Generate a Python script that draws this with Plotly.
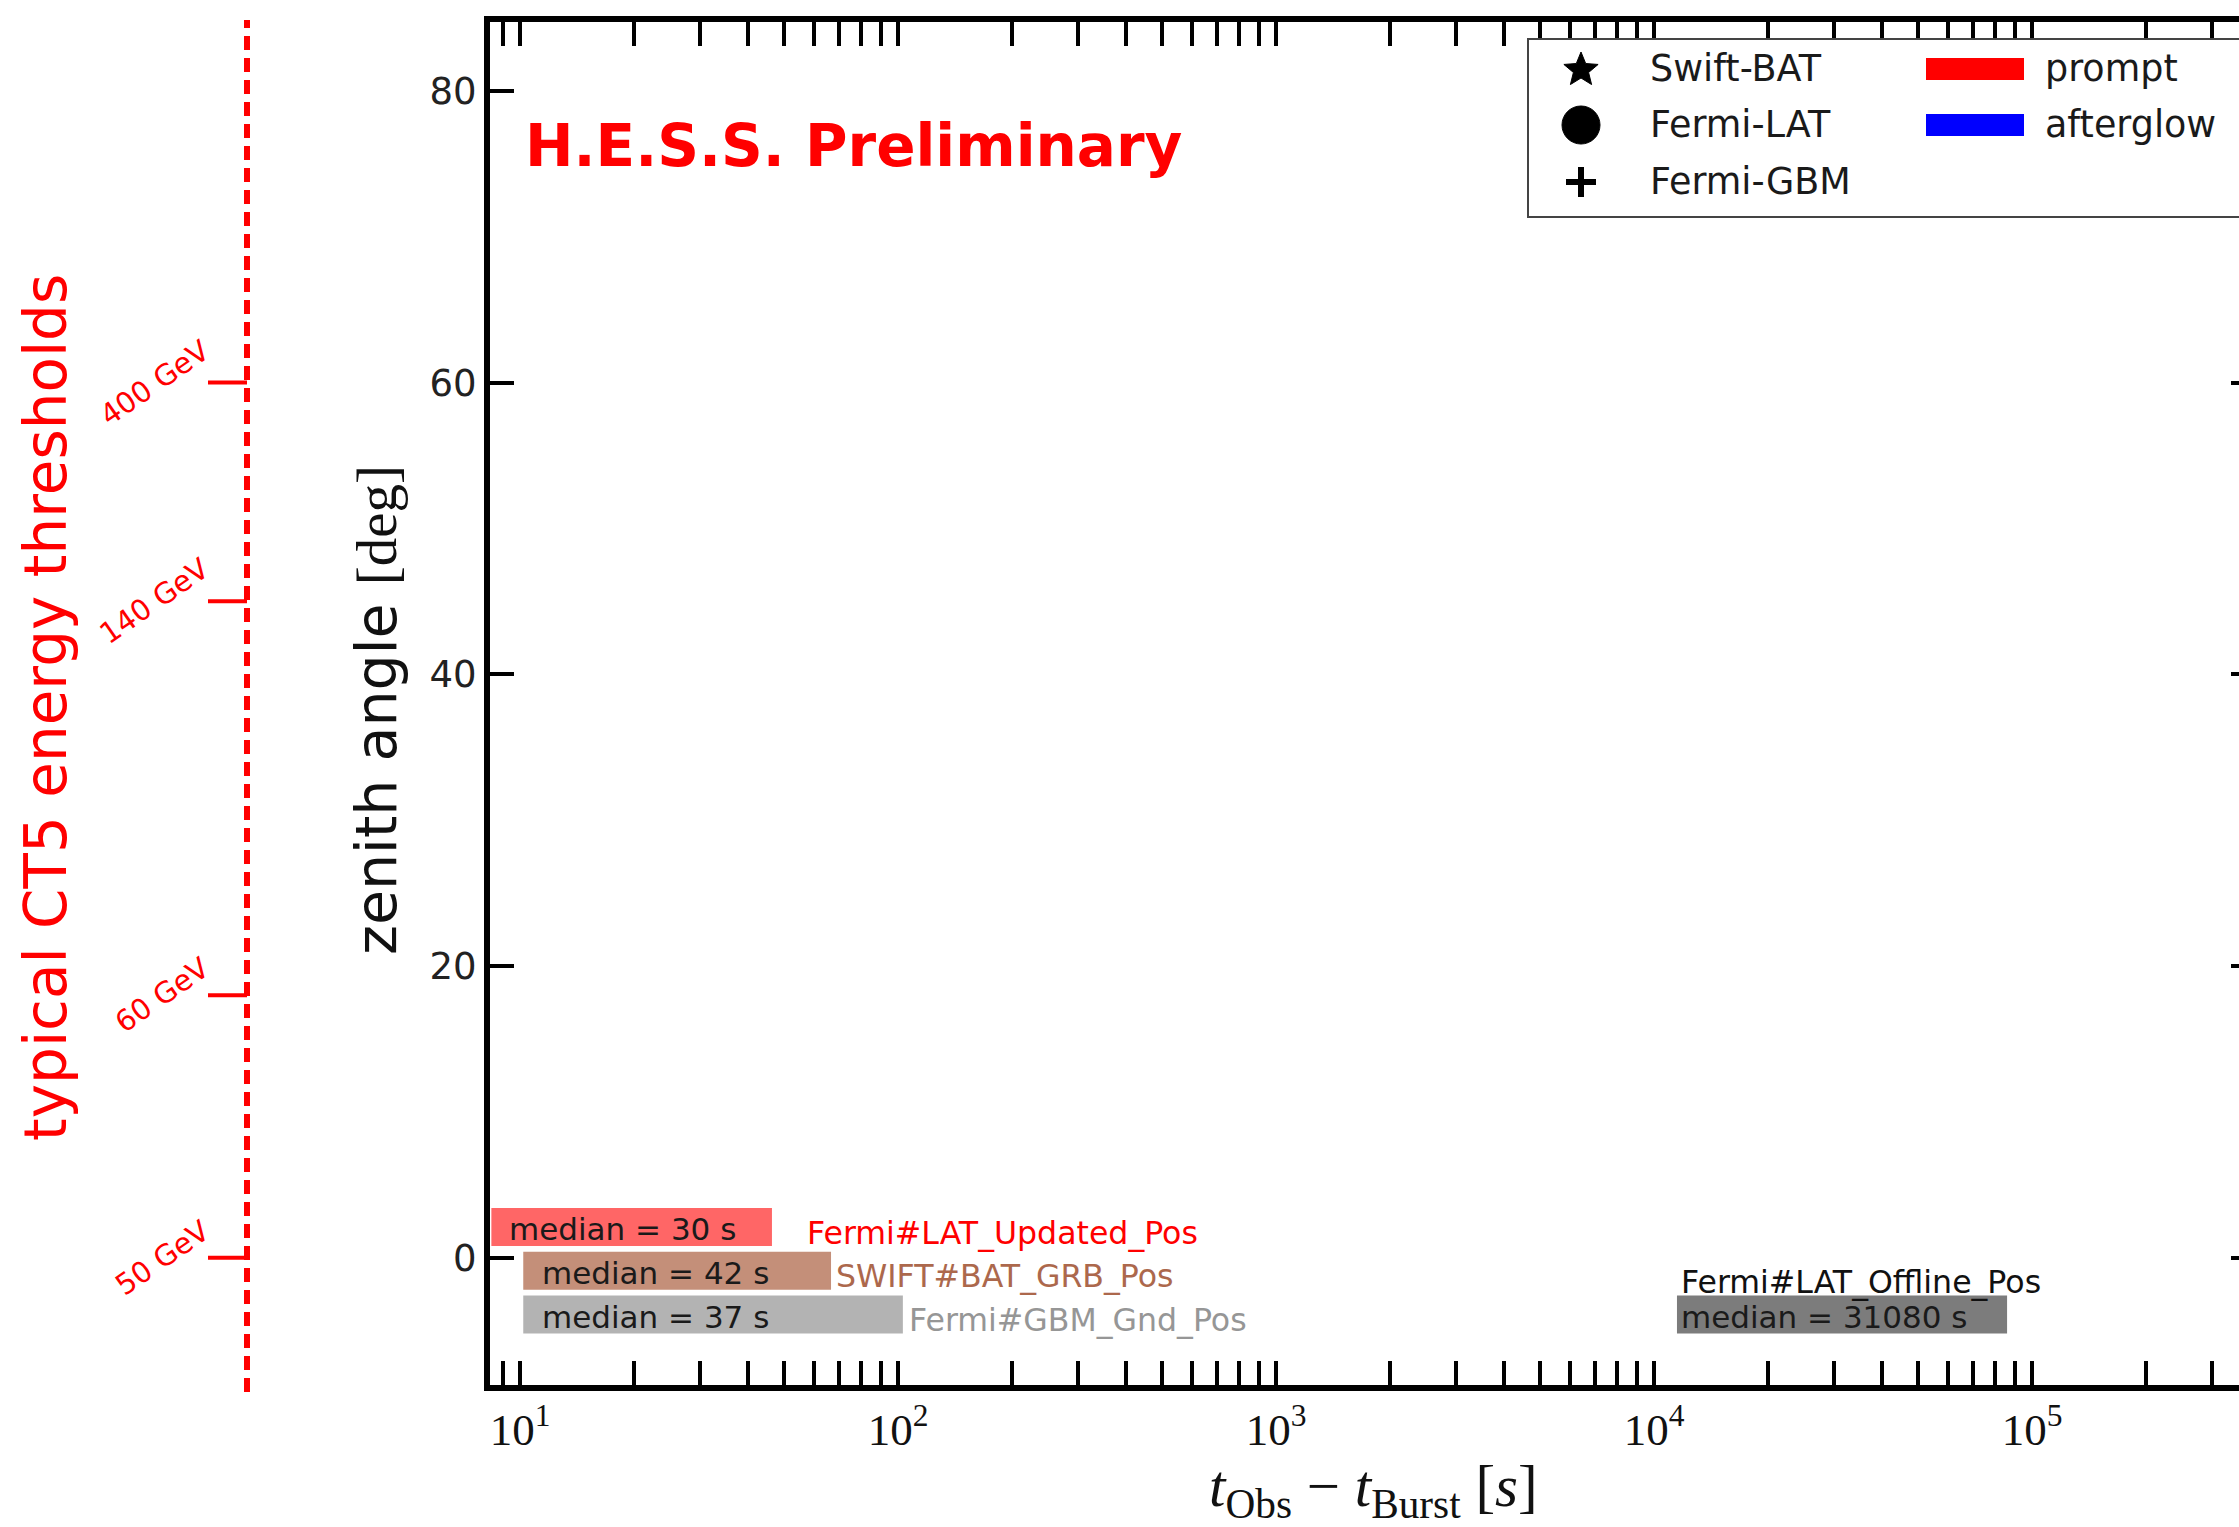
import numpy as np
import plotly.graph_objects as go

# ---------------- data ----------------
sources = ["Fermi#LAT_Updated_Pos", "SWIFT#BAT_GRB_Pos", "Fermi#GBM_Gnd_Pos", "Fermi#LAT_Offline_Pos"]
t_start = [8.4, 10.2, 10.2, 11500.0]        # s
t_end = [46.4, 66.5, 103.0, 85900.0]        # s
medians = [30, 42, 37, 31080]               # s
bar_y = [2.1, -0.9, -3.9, -3.9]             # deg (row position)
bar_height = 2.6

thr_zenith = [0, 18, 45, 60]                # deg
thr_labels = ["50 GeV", "60 GeV", "140 GeV", "400 GeV"]

y_ticks = [0, 20, 40, 60, 80]
x_ticks = [10, 100, 1000, 10000, 100000]
x_ticklabels = ["10<sup>1</sup>", "10<sup>2</sup>", "10<sup>3</sup>", "10<sup>4</sup>", "10<sup>5</sup>"]
x_range_s = [8.33, 352800.0]
y_range = [-8.73, 84.72]

legend_markers = ["Swift-BAT", "Fermi-LAT", "Fermi-GBM"]
legend_patches = ["prompt", "afterglow"]
patch_colors = ["#ff0000", "#0000ff"]

# ---------------- style ----------------
W, H = 2239, 1527
PL, PT, PB = 490, 22, 1385
bar_colors = ["rgb(255,102,102)", "rgb(196,143,121)", "rgb(179,179,179)", "rgb(124,124,124)"]
label_colors = ["#ff0000", "rgb(172,104,76)", "rgb(150,150,150)", "#111111"]
median_dx = [16, 17, 17, 2]
label_dx = [33, 3, 4, 2]
SANS = "DejaVu Sans"
SERIF = "Liberation Serif"
RED = "#ff0000"


def pxx(x):
    return x / W


def pxy(y):
    return (PB - y) / (PB - PT)


fig = go.Figure()

fig.add_trace(go.Bar(
    orientation="h",
    y=bar_y,
    x=[e - s for s, e in zip(t_start, t_end)],
    base=t_start,
    width=bar_height,
    marker=dict(color=bar_colors, line=dict(width=0)),
    showlegend=False,
    hoverinfo="skip",
))
# dummy trace so the mirrored right axis exists
fig.add_trace(go.Scatter(x=[None], y=[None], yaxis="y2", showlegend=False, hoverinfo="skip"))

ann = []
shapes = []

# median labels and source labels
for i in range(len(sources)):
    ann.append(dict(x=np.log10(t_start[i]), y=bar_y[i], xref="x", yref="y",
                    text=f"median = {medians[i]} s", showarrow=False,
                    xanchor="left", yanchor="middle", xshift=median_dx[i], yshift=-2,
                    font=dict(family=SANS, size=31, color="#1a1a1a")))
    if i < 3:
        ann.append(dict(x=np.log10(t_end[i]), y=bar_y[i], xref="x", yref="y",
                        text=sources[i], showarrow=False,
                        xanchor="left", yanchor="middle", xshift=label_dx[i], yshift=-6,
                        font=dict(family=SANS, size=31.6, color=label_colors[i])))
    else:
        ann.append(dict(x=np.log10(t_start[i]), y=bar_y[i] + bar_height / 2, xref="x", yref="y",
                        text=sources[i], showarrow=False,
                        xanchor="left", yanchor="bottom", xshift=label_dx[i], yshift=-7,
                        font=dict(family=SANS, size=31.6, color=label_colors[i])))

# H.E.S.S. Preliminary
ann.append(dict(x=pxx(523), y=pxy(146), xref="paper", yref="paper", text="H.E.S.S. Preliminary",
                showarrow=False, xanchor="left", yanchor="middle",
                font=dict(family=SANS, size=58, color=RED, weight="bold")))

# axis titles
ann.append(dict(x=pxx(376), y=pxy(710), xref="paper", yref="paper",
                text="zenith angle <span style='font-family:Liberation Serif'>[deg]</span>",
                showarrow=False, textangle=-90, xanchor="center", yanchor="middle",
                font=dict(family=SANS, size=57, color="#111111")))
ann.append(dict(x=pxx(1373), y=pxy(1490), xref="paper", yref="paper",
                text="<i>t</i><sub>Obs</sub> − <i>t</i><sub>Burst</sub> [<i>s</i>]",
                showarrow=False, xanchor="center", yanchor="middle",
                font=dict(family=SERIF, size=59, color="#111111")))
ann.append(dict(x=pxx(46), y=pxy(708), xref="paper", yref="paper",
                text="typical CT5 energy thresholds",
                showarrow=False, textangle=-90, xanchor="center", yanchor="middle",
                font=dict(family=SANS, size=58, color=RED)))

# energy threshold scale on the left
shapes.append(dict(type="line", xref="paper", yref="paper", x0=pxx(247), x1=pxx(247),
                   y0=pxy(1392), y1=pxy(20), line=dict(color=RED, width=6, dash="14px,8px")))
for z, lab in zip(thr_zenith, thr_labels):
    shapes.append(dict(type="line", xref="paper", yref="y", x0=pxx(208), x1=pxx(247),
                       y0=z, y1=z, line=dict(color=RED, width=4)))
    ann.append(dict(x=pxx(218), y=z, xref="paper", yref="y", text=lab, showarrow=False,
                    textangle=-35, xanchor="right", yanchor="middle",
                    font=dict(family=SANS, size=29, color=RED)))

# legend (drawn by hand, two columns)
shapes.append(dict(type="rect", xref="paper", yref="paper", x0=pxx(1528), x1=1.02,
                   y0=pxy(217), y1=pxy(39), line=dict(color="#444444", width=2),
                   fillcolor="white", layer="above"))
rows = [69, 125, 182]
mx = 1581
# star
R, r = 18, 8
pts = []
for k in range(10):
    ang = np.pi / 2 + k * np.pi / 5
    rad = R if k % 2 == 0 else r
    pts.append((mx + rad * np.cos(ang), rows[0] + 1 - rad * np.sin(ang)))
path = "M" + " L".join(f"{pxx(a):.6f},{pxy(b):.6f}" for a, b in pts) + " Z"
shapes.append(dict(type="path", xref="paper", yref="paper", path=path,
                   fillcolor="black", line=dict(color="black", width=1), layer="above"))
# circle
shapes.append(dict(type="circle", xref="paper", yref="paper", x0=pxx(mx - 19), x1=pxx(mx + 19),
                   y0=pxy(rows[1] + 19), y1=pxy(rows[1] - 19), fillcolor="black",
                   line=dict(color="black", width=1), layer="above"))
# plus
shapes.append(dict(type="line", xref="paper", yref="paper", x0=pxx(mx - 15), x1=pxx(mx + 15),
                   y0=pxy(rows[2]), y1=pxy(rows[2]), line=dict(color="black", width=6), layer="above"))
shapes.append(dict(type="line", xref="paper", yref="paper", x0=pxx(mx), x1=pxx(mx),
                   y0=pxy(rows[2] - 15), y1=pxy(rows[2] + 15), line=dict(color="black", width=6), layer="above"))
for name, yy in zip(legend_markers, rows):
    ann.append(dict(x=pxx(1648), y=pxy(yy), xref="paper", yref="paper", text=name, showarrow=False,
                    xanchor="left", yanchor="middle", font=dict(family=SANS, size=36.5, color="#1a1a1a")))
for name, col, yy in zip(legend_patches, patch_colors, rows):
    shapes.append(dict(type="rect", xref="paper", yref="paper", x0=pxx(1926), x1=pxx(2024),
                       y0=pxy(yy + 11), y1=pxy(yy - 11), fillcolor=col, line=dict(width=0), layer="above"))
    ann.append(dict(x=pxx(2043), y=pxy(yy), xref="paper", yref="paper", text=name, showarrow=False,
                    xanchor="left", yanchor="middle", font=dict(family=SANS, size=36.5, color="#1a1a1a")))

fig.update_layout(
    template="none",
    width=W, height=H,
    margin=dict(l=0, r=0, t=PT, b=H - PB, pad=0),
    paper_bgcolor="white", plot_bgcolor="white",
    showlegend=False,
    annotations=ann, shapes=shapes,
    xaxis=dict(
        type="log", domain=[PL / W, 1], range=[np.log10(x_range_s[0]), np.log10(x_range_s[1])],
        tickvals=x_ticks, ticktext=x_ticklabels,
        ticks="inside", ticklen=24, tickwidth=4, tickcolor="black",
        minor=dict(ticks="inside", ticklen=24, tickwidth=4, tickcolor="black", dtick="D1", showgrid=False),
        showline=True, linewidth=6, linecolor="black", mirror="ticks",
        showgrid=False, zeroline=False, automargin=False,
        tickfont=dict(family=SERIF, size=45, color="#111111"),
    ),
    yaxis=dict(
        range=y_range, tickvals=y_ticks, ticks="inside", ticklen=24, tickwidth=4, tickcolor="black",
        showline=True, linewidth=6, linecolor="black", mirror=False,
        showgrid=False, zeroline=False, automargin=False,
        tickfont=dict(family=SANS, size=37, color="#222222"),
    ),
    yaxis2=dict(
        overlaying="y", side="right", range=y_range, tickvals=y_ticks, ticks="inside", ticklen=8,
        tickwidth=4, tickcolor="black", showticklabels=False, showline=False, showgrid=False,
        zeroline=False, automargin=False,
    ),
)

fig.write_html("out.html")
